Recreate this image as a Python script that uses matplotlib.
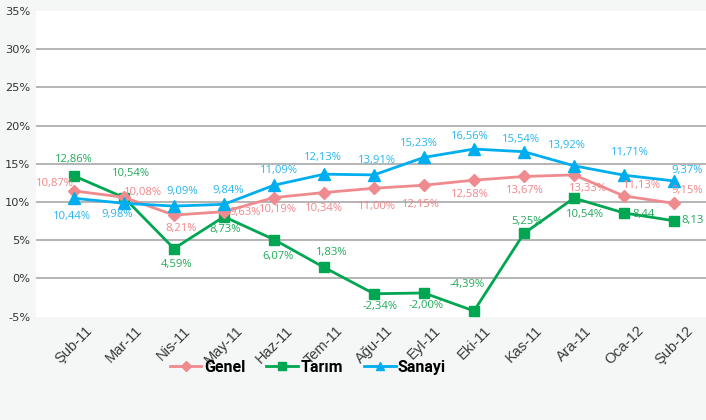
import matplotlib
matplotlib.use("Agg")
import matplotlib.pyplot as plt

# data (marker heights as drawn, label texts as printed)
months = ["Şub-11", "Mar-11", "Nis-11", "May-11", "Haz-11", "Tem-11", "Ağu-11",
          "Eyl-11", "Eki-11", "Kas-11", "Ara-11", "Oca-12", "Şub-12"]
genel = [11.45, 10.62, 8.29, 8.74, 10.58, 11.24, 11.80, 12.20, 12.86, 13.34, 13.55, 10.79, 9.83]
tarim = [13.42, 10.58, 3.91, 8.08, 5.09, 1.45, -2.00, -1.90, -4.25, 5.90, 10.51, 8.57, 7.55]
sanayi = [10.49, 9.83, 9.47, 9.70, 12.20, 13.64, 13.55, 15.84, 16.93, 16.58, 14.74, 13.51, 12.76]

genel_lbl = ["10,87%", "10,08%", "8,21%", "9,63%", "10,19%", "10,34%", "11,00%",
             "12,15%", "12,58%", "13,67%", "13,33%", "11,13%", "9,15%"]
tarim_lbl = ["12,86%", "10,54%", "4,59%", "8,73%", "6,07%", "1,83%", "-2,34%",
             "-2,00%", "-4,39%", "5,25%", "10,54%", "8,44", "8,13"]
sanayi_lbl = ["10,44%", "9,98%", "9,09%", "9,84%", "11,09%", "12,13%", "13,91%",
              "15,23%", "16,56%", "15,54%", "13,92%", "11,71%", "9,37%"]

# where each value label sits relative to its marker (points)
genel_off = [(-13.7, 5.5), (13.5, 3.6), (4.9, -9.6), (15.5, -0.5), (3.1, -8.9), (0, -11.5),
             (2.2, -13.2), (-2.2, -13.7), (-3.1, -10.1), (0.7, -9.9), (10.3, -9.6),
             (12.7, 7.7), (9.5, 8.9)]
tarim_off = [(0, 12), (4.8, 17.5), (1.6, -11.5), (0.9, -9.1), (2.9, -12), (5.3, 10.8),
             (4.3, -9.1), (1.2, -9.1), (-5.3, 19.2), (2.4, 8.4), (7.9, -12),
             (14.2, -0.9), (13.5, 0)]
sanayi_off = [(-1.4, -13), (-5, -8), (6.1, 10.6), (2.9, 10.1), (3.4, 10.8), (-0.7, 12),
              (2.2, 10.1), (-3.8, 10.1), (-3.1, 8.9), (-1.9, 8.6), (-5.5, 14.9),
              (4.1, 16.3), (9.5, 7.5)]

pink = "#ef8a8e"
green = "#00a651"
blue = "#00aeef"

fig = plt.figure(figsize=(7.06, 4.2), dpi=100, facecolor="#f5f7f6")
ax = fig.add_axes([0.051, 0.246, 0.949, 0.728])
ax.set_facecolor("white")

x = list(range(len(months)))
ax.plot(x, tarim, color=green, lw=2.0, marker="s", ms=7.9, label="Tarım", zorder=3)
ax.plot(x, genel, color=pink, lw=2.0, marker="D", ms=6.5, label="Genel", zorder=4)
ax.plot(x, sanayi, color=blue, lw=2.0, marker="^", ms=8, label="Sanayi", zorder=5)

for vals, lbls, offs, col in [(genel, genel_lbl, genel_off, "#f0868a"),
                              (tarim, tarim_lbl, tarim_off, "#22a95a"),
                              (sanayi, sanayi_lbl, sanayi_off, "#29b5ee")]:
    for i in range(len(vals)):
        ax.annotate(lbls[i], (x[i], vals[i]), xytext=offs[i], textcoords="offset points",
                    ha="center", va="center", color=col, family="Open Sans",
                    fontsize=8.1, zorder=6)

ax.set_ylim(-5, 35)
ax.set_xlim(-0.76, 12.64)
ax.set_yticks(range(-5, 40, 5))
ax.set_yticklabels([f"{v}%" for v in range(-5, 40, 5)], fontsize=8.2, color="#333333")
ax.set_xticks(x)
ax.set_xticklabels(months, rotation=45, ha="center",
                   fontsize=10.5, color="#3a3a3a", family="Liberation Sans")
ax.tick_params(length=0, pad=4)
ax.tick_params(axis="x", pad=5)
for s in ax.spines.values():
    s.set_visible(False)
ax.grid(axis="y", color="#a8a8a8", lw=1.2)
ax.set_axisbelow(True)
gl = ax.get_ygridlines()
gl[0].set_visible(False)
gl[-1].set_visible(False)

h, l = ax.get_legend_handles_labels()
order = [1, 0, 2]
fig.legend([h[i] for i in order], [l[i] for i in order], loc="center",
           bbox_to_anchor=(0.436, 0.126), ncol=3, frameon=False, markerscale=0.8,
           handlelength=2.0, handletextpad=0.15, columnspacing=1.3,
           prop={"family": "Roboto", "weight": "bold", "size": 11.5})

fig.savefig("out.png", dpi=100, facecolor=fig.get_facecolor())
